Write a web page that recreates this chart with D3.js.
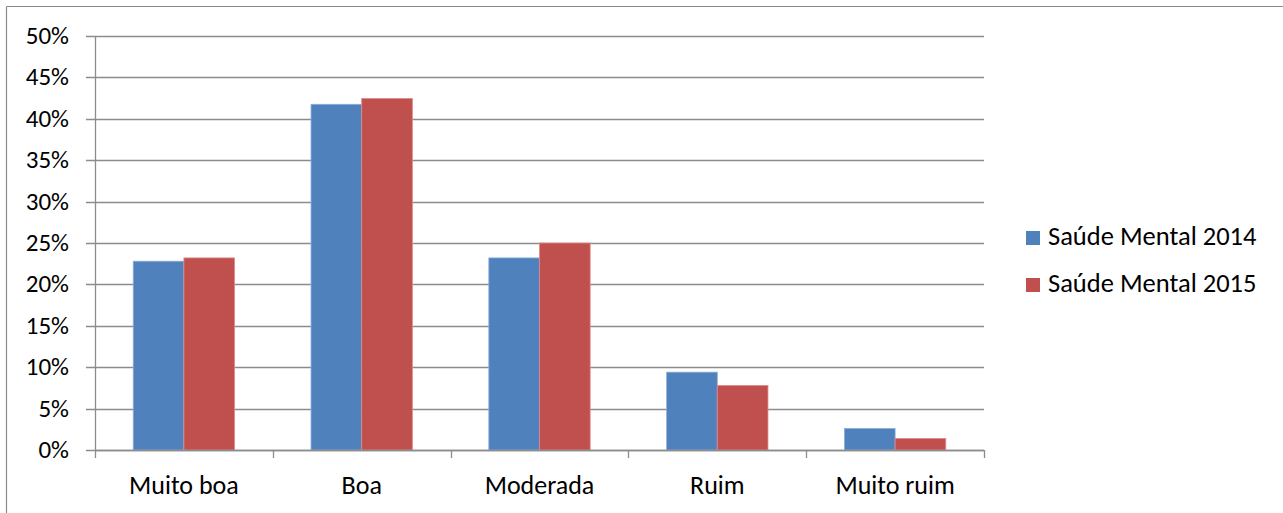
<!DOCTYPE html>
<html>
<head>
<meta charset="utf-8">
<script src="https://cdn.jsdelivr.net/npm/d3@7"></script>
<style>
  html, body { margin: 0; padding: 0; background: #fff; }
  svg { display: block; }
  text { font-family: Carlito, Calibri, Lato, sans-serif; fill: #000; }
</style>
</head>
<body>
<svg id="chart" width="1283" height="513"></svg>
<script>
// Self-rated mental health, share of respondents by answer
const categories = ["Muito boa", "Boa", "Moderada", "Ruim", "Muito ruim"];
const seriesNames = ["Saúde Mental 2014", "Saúde Mental 2015"];
const values2014 = [0.228, 0.4175, 0.232, 0.094, 0.026];
const values2015 = [0.232, 0.4245, 0.250, 0.078, 0.014];
const yTicks = [0, 0.05, 0.10, 0.15, 0.20, 0.25, 0.30, 0.35, 0.40, 0.45, 0.50];
const colors = ["#4F81BD", "#C0504D"];
const edgeColors = ["#8eaedb", "#e08b89"];

const svg = d3.select("#chart");
const W = 1283, H = 513;

// chart frame (top and left edges)
svg.append("line").attr("x1", 6.5).attr("x2", W).attr("y1", 6.5).attr("y2", 6.5)
  .attr("stroke", "#8a8a8a").attr("stroke-width", 1.2);
svg.append("line").attr("x1", 6.5).attr("x2", 6.5).attr("y1", 6.5).attr("y2", H)
  .attr("stroke", "#8a8a8a").attr("stroke-width", 1.2);

const plot = { left: 95, right: 984, top: 36, bottom: 450 };

const x = d3.scaleBand().domain(categories)
  .range([plot.left, plot.right]).paddingInner(0.43).paddingOuter(0.215);
const xs = d3.scaleBand().domain([0, 1]).range([0, x.bandwidth()]);
const y = d3.scaleLinear().domain([0, 0.5]).range([plot.bottom, plot.top]);

// horizontal gridlines with short outward ticks
const grid = svg.append("g");
grid.selectAll("line").data(yTicks).join("line")
  .attr("x1", plot.left - 9).attr("x2", plot.right)
  .attr("y1", d => Math.round(y(d)) + 0.5).attr("y2", d => Math.round(y(d)) + 0.5)
  .attr("stroke", "#8c8c8c").attr("stroke-width", 1.3);

// bars
const series = [values2014, values2015];
series.forEach((vals, si) => {
  svg.append("g").selectAll("rect").data(categories).join("rect")
    .attr("x", (c) => x(c) + xs(si))
    .attr("width", xs.bandwidth())
    .attr("y", (c, i) => y(vals[i]))
    .attr("height", (c, i) => y(0) - y(vals[i]))
    .attr("fill", colors[si])
    .attr("stroke", edgeColors[si]).attr("stroke-width", 0.8);
});

// y axis line
svg.append("line").attr("x1", plot.left + 0.5).attr("x2", plot.left + 0.5)
  .attr("y1", plot.top).attr("y2", plot.bottom)
  .attr("stroke", "#8c8c8c").attr("stroke-width", 1.3);

// x axis line and category separators
svg.append("line").attr("x1", plot.left).attr("x2", plot.right)
  .attr("y1", Math.round(y(0)) + 0.5).attr("y2", Math.round(y(0)) + 0.5)
  .attr("stroke", "#8c8c8c").attr("stroke-width", 1.3);
const seps = d3.range(categories.length + 1).map(i => plot.left + i * (plot.right - plot.left) / categories.length);
svg.append("g").selectAll("line").data(seps).join("line")
  .attr("x1", d => Math.round(d) + 0.5).attr("x2", d => Math.round(d) + 0.5)
  .attr("y1", plot.bottom).attr("y2", plot.bottom + 8)
  .attr("stroke", "#8c8c8c").attr("stroke-width", 1.3);

// y tick labels
const fmt = d3.format(".0%");
svg.append("g").selectAll("text").data(yTicks).join("text")
  .attr("x", 69).attr("y", d => y(d) + 8)
  .attr("text-anchor", "end")
  .style("font-size", "25px")
  .text(d => fmt(d));

// category labels
svg.append("g").selectAll("text").data(categories).join("text")
  .attr("x", c => x(c) + x.bandwidth() / 2).attr("y", 494)
  .attr("text-anchor", "middle")
  .style("font-size", "26px")
  .text(c => c);

// legend
const legend = svg.append("g");
seriesNames.forEach((name, i) => {
  const ly = 231 + i * 47;
  legend.append("rect").attr("x", 1026).attr("y", ly).attr("width", 14).attr("height", 14)
    .attr("fill", colors[i]);
  legend.append("text").attr("x", 1048).attr("y", ly + 14)
    .style("font-size", "26.5px").text(name);
});
</script>
</body>
</html>
